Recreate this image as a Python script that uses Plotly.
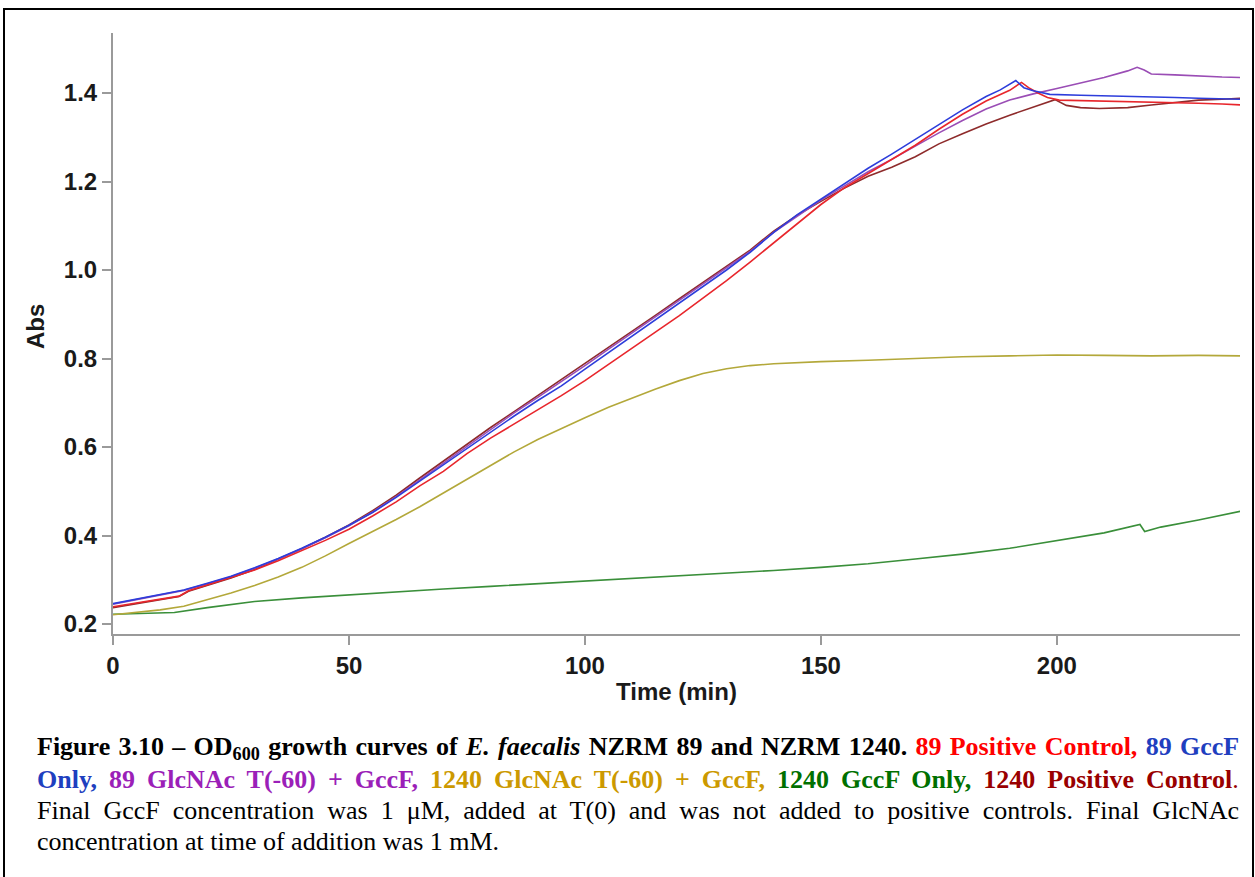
import plotly.graph_objects as go

# ---------------- data ----------------
red_t = [0,5,10,14,16,20,25,30,35,40,45,50,55,60,65,70,75,80,85,90,95,100,105,110,115,120,125,130,135,140,145,150,155,160,165,170,175,180,185,188,190,192.5,194,196,198,200.5,205,210,215,220,225,230,235,239]
red_v = [0.239,0.248,0.256,0.263,0.275,0.288,0.305,0.322,0.343,0.366,0.389,0.414,0.444,0.476,0.512,0.545,0.585,0.620,0.652,0.683,0.716,0.750,0.786,0.823,0.860,0.897,0.936,0.976,1.018,1.061,1.105,1.148,1.186,1.218,1.250,1.282,1.318,1.352,1.382,1.396,1.406,1.424,1.412,1.400,1.390,1.384,1.383,1.381,1.381,1.380,1.379,1.377,1.375,1.373]

blue_t = [0,5,10,15,20,25,30,35,40,45,50,55,60,65,70,75,80,85,90,95,100,105,110,115,120,125,130,135,140,145,150,155,160,165,170,175,180,185,188,191.3,193,195,198.5,205,210,216,220,225,230,235,239]
blue_v = [0.246,0.256,0.266,0.277,0.292,0.308,0.327,0.348,0.371,0.396,0.423,0.452,0.486,0.523,0.560,0.598,0.635,0.670,0.705,0.738,0.776,0.813,0.850,0.887,0.925,0.962,1.000,1.040,1.085,1.125,1.160,1.196,1.230,1.262,1.295,1.330,1.362,1.392,1.407,1.428,1.412,1.405,1.397,1.395,1.394,1.392,1.391,1.390,1.388,1.387,1.386]

purple_t = [0,5,10,15,20,25,30,35,40,45,50,55,60,65,70,75,80,85,90,95,100,105,110,115,120,125,130,135,140,145,150,155,160,165,170,175,180,185,190,195,200,205,210,215,217,218.5,220,225,230,235,239]
purple_v = [0.245,0.255,0.265,0.276,0.291,0.307,0.326,0.347,0.370,0.395,0.422,0.453,0.488,0.526,0.565,0.603,0.641,0.677,0.712,0.747,0.784,0.821,0.858,0.895,0.932,0.969,1.006,1.042,1.085,1.122,1.158,1.190,1.222,1.250,1.280,1.310,1.338,1.364,1.384,1.398,1.410,1.423,1.435,1.450,1.458,1.452,1.443,1.441,1.438,1.436,1.435]

yellow_t = [0,5,10,15,20,25,30,35,40,45,50,55,60,65,70,75,80,85,90,95,100,105,110,115,120,125,130,135,140,145,150,160,170,180,190,200,210,220,230,239]
yellow_v = [0.221,0.227,0.232,0.240,0.255,0.270,0.287,0.306,0.328,0.354,0.382,0.409,0.436,0.465,0.496,0.528,0.559,0.589,0.617,0.642,0.666,0.690,0.711,0.731,0.750,0.766,0.777,0.784,0.788,0.791,0.793,0.796,0.800,0.804,0.806,0.808,0.807,0.806,0.807,0.806]

green_t = [0,5,10,13,20,30,40,50,60,70,80,90,100,110,120,130,140,150,160,170,180,190,200,210,217.6,218.6,222,230,239]
green_v = [0.222,0.224,0.225,0.226,0.237,0.251,0.259,0.266,0.273,0.279,0.285,0.291,0.297,0.303,0.309,0.314,0.321,0.328,0.336,0.347,0.358,0.371,0.389,0.406,0.425,0.409,0.419,0.435,0.455]

brown_t = [0,5,10,14,16,20,25,30,35,40,45,50,55,60,65,70,75,80,85,90,95,100,105,110,115,120,125,130,135,140,145,150,155,160,165,170,175,180,185,190,195,199.6,202,205,209,215,220,225,230,235,239]
brown_v = [0.237,0.246,0.255,0.262,0.274,0.287,0.304,0.323,0.346,0.370,0.396,0.424,0.456,0.491,0.530,0.568,0.607,0.644,0.680,0.716,0.752,0.789,0.826,0.862,0.898,0.935,0.972,1.008,1.045,1.088,1.124,1.155,1.185,1.212,1.232,1.256,1.285,1.308,1.330,1.350,1.368,1.385,1.372,1.367,1.365,1.367,1.373,1.378,1.384,1.386,1.388]

series_names = ["1240 GccF Only", "1240 GlcNAc T(-60) + GccF", "1240 Positive Control",
                "89 GlcNAc T(-60) + GccF", "89 Positive Control", "89 GccF Only"]
x_ticks = [0, 50, 100, 150, 200]
y_ticks = [0.2, 0.4, 0.6, 0.8, 1.0, 1.2, 1.4]
y_tick_labels = ["0.2", "0.4", "0.6", "0.8", "1.0", "1.2", "1.4"]

# ---------------- figure ----------------
W, H = 1255, 877
L, R, T, B = 113, 15, 33, 243
PW, PH = W - L - R, H - T - B

def px(x):
    return (x - L) / PW

def py(y):
    return (T + PH - y) / PH

fig = go.Figure()
traces = [
    (green_t, green_v, "#3a8f3a"),
    (yellow_t, yellow_v, "#b3a83a"),
    (brown_t, brown_v, "#8e2b2b"),
    (purple_t, purple_v, "#9a4db5"),
    (red_t, red_v, "#e8262c"),
    (blue_t, blue_v, "#2d3ddb"),
]
for (tt, vv, col), name in zip(traces, series_names):
    fig.add_trace(go.Scatter(x=tt, y=vv, mode="lines", name=name,
                             line=dict(color=col, width=1.6)))

tickfont = dict(family="Liberation Sans, Arial, sans-serif", size=24, color="#1a1a1a", weight="bold")
fig.update_xaxes(range=[0, 238.8], tickvals=x_ticks, showline=True, linecolor="#9a9a9a", linewidth=2,
                 ticks="outside", ticklen=9, tickwidth=1.5, tickcolor="#9a9a9a",
                 showgrid=False, zeroline=False, tickfont=tickfont)
fig.update_yaxes(range=[0.1774, 1.5356], tickvals=y_ticks, ticktext=y_tick_labels, showline=True,
                 linecolor="#9a9a9a", linewidth=2, ticks="outside", ticklen=9, tickwidth=1.5,
                 tickcolor="#9a9a9a", showgrid=False, zeroline=False, tickfont=tickfont)

ann = []
ann.append(dict(x=px(676), y=py(691), xref="paper", yref="paper", text="<b>Time (min)</b>",
                showarrow=False, xanchor="center", yanchor="middle", font=tickfont))
ann.append(dict(x=px(35), y=py(327), xref="paper", yref="paper", text="<b>Abs</b>", textangle=-90,
                showarrow=False, xanchor="center", yanchor="middle", font=tickfont))

capfont = dict(family="Liberation Serif, Times New Roman, serif", size=26, color="#000000")

def sp(color, text, ws):
    return "<span style='color:%s;word-spacing:%spx'>%s</span>" % (color, ws, text)

ws1, ws2, ws3 = 1.8, 5.5, 6.5
line1 = ("<span style='word-spacing:%spx'><b>Figure 3.10 – OD<sub>600</sub> growth curves of <i>E. faecalis</i> NZRM 89 and NZRM 1240. " % ws1
         + sp("#ff0000", "89 Positive Control,", ws1) + " " + sp("#1f3fbf", "89 GccF", ws1) + "</b></span>")
line2 = ("<span style='word-spacing:%spx'><b>" % ws2
         + sp("#1f3fbf", "Only,", ws2) + " " + sp("#9b1fb8", "89 GlcNAc T(-60) + GccF,", ws2) + " "
         + sp("#cc9900", "1240 GlcNAc T(-60) + GccF,", ws2) + " " + sp("#007000", "1240 GccF Only,", ws2) + " "
         + sp("#990000", "1240 Positive Control", ws2) + "</b>" + sp("#990000", ".", ws2) + "</span>")
line3 = ("<span style='word-spacing:%spx'>Final GccF concentration was 1 μM, added at T(0) and was not added to positive controls. Final GlcNAc</span>" % ws3)
line4 = "concentration at time of addition was 1 mM."
for txt, yy in zip([line1, line2, line3, line4], [748, 779, 810, 841]):
    ann.append(dict(x=px(35), y=py(yy), xref="paper", yref="paper", text=txt, showarrow=False,
                    xanchor="left", yanchor="middle", align="left", font=capfont))

fig.update_layout(
    width=W, height=H, margin=dict(l=L, r=R, t=T, b=B, autoexpand=False),
    paper_bgcolor="white", plot_bgcolor="white", showlegend=False,
    annotations=ann,
    shapes=[dict(type="rect", xref="paper", yref="paper", x0=px(4), x1=px(1253), y0=py(9), y1=py(900),
                 line=dict(color="black", width=2), fillcolor="rgba(0,0,0,0)", layer="above")],
)
fig.write_html("out.html", config={"displayModeBar": False},
               post_script="document.body.style.margin='0';document.body.style.overflow='hidden';")
